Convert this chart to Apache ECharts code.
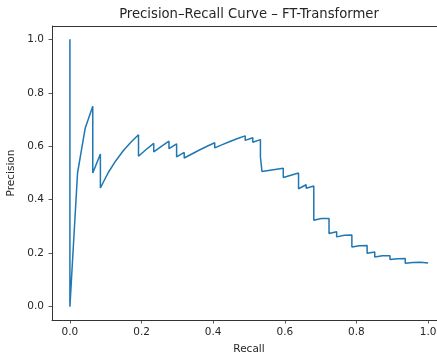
<!DOCTYPE html>
<html>
<head>
<meta charset="utf-8">
<script src="https://cdn.jsdelivr.net/npm/echarts@6/dist/echarts.min.js"></script>
<style>html,body{margin:0;padding:0;background:#fff;}#c{width:437px;height:357px;}</style>
</head>
<body>
<div id="c"></div>
<script>
const titleText = 'Precision\u2013Recall Curve \u2013 FT-Transformer';
const xName = 'Recall';
const yName = 'Precision';
const tickValues = [0, 0.2, 0.4, 0.6, 0.8, 1.0];

const recall = [0, 0, 0.0213, 0.0426, 0.0638, 0.0638, 0.0851, 0.0851, 0.1064, 0.1277,
  0.1489, 0.1702, 0.1915, 0.1915, 0.2128, 0.2340, 0.2340, 0.2553, 0.2766, 0.2766,
  0.2979, 0.2979, 0.3191, 0.3191, 0.3404, 0.3617, 0.3830, 0.4043, 0.4043, 0.4255,
  0.4468, 0.4681, 0.4894, 0.4894, 0.5106, 0.5106, 0.5319, 0.5319, 0.5362, 0.5362,
  0.5957, 0.5957, 0.6383, 0.6383, 0.6596, 0.6596, 0.6809, 0.6809, 0.7021, 0.7021,
  0.7234, 0.7234, 0.7447, 0.7447, 0.7660, 0.7660, 0.7872, 0.7872, 0.8085, 0.8085,
  0.8298, 0.8298, 0.8511, 0.8511, 0.8723, 0.8723, 0.8936, 0.8936, 0.9149, 0.9149,
  0.9362, 0.9362, 0.9574, 0.9574, 0.9787, 0.9787, 1.0];
const precision = [1.0, 0.0, 0.5, 0.667, 0.75, 0.5, 0.571, 0.444, 0.5, 0.545,
  0.583, 0.615, 0.643, 0.5625, 0.588, 0.611, 0.579, 0.6, 0.619, 0.591,
  0.609, 0.56, 0.577, 0.556, 0.571, 0.586, 0.6, 0.613, 0.594, 0.606,
  0.618, 0.629, 0.639, 0.622, 0.632, 0.615, 0.625, 0.56, 0.56, 0.506,
  0.518, 0.483, 0.5, 0.441, 0.456, 0.443, 0.451, 0.323, 0.33, 0.324,
  0.33, 0.274, 0.28, 0.261, 0.267, 0.263, 0.268, 0.223, 0.228, 0.225,
  0.229, 0.2, 0.204, 0.186, 0.19, 0.187, 0.19, 0.176, 0.179, 0.177,
  0.18, 0.162, 0.165, 0.163, 0.166, 0.162, 0.163];

const pts = recall.map((r, i) => [r, precision[i]]);
const font = 'DejaVu Sans';
const txt = '#262626';
const spine = {show: true, onZero: false, lineStyle: {color: '#333', width: 1}};
const tick = {show: true, inside: false, customValues: tickValues, length: 3.5, lineStyle: {color: '#333', width: 0.8}};

const chart = echarts.init(document.getElementById('c'), null, {renderer: 'canvas'});
chart.setOption({
  animation: false,
  backgroundColor: '#fff',
  title: {
    text: titleText, left: 249, top: 8, textAlign: 'center', padding: 0, z: 0,
    textStyle: {fontFamily: font, fontSize: 13.2, fontWeight: 'normal', color: txt}
  },
  grid: {left: 52, top: 26, width: 394, height: 294, show: false, outerBoundsMode: 'none', containLabel: false},
  graphic: [{
    type: 'line', z: 100, silent: true,
    shape: {x1: 52, y1: 26.5, x2: 437, y2: 26.5},
    style: {stroke: '#333', lineWidth: 1}
  }],
  xAxis: {
    type: 'value', position: 'bottom', min: -0.05, max: 1.05,
    name: xName, nameLocation: 'middle', nameGap: 24,
    nameTextStyle: {fontFamily: font, fontSize: 10.5, color: txt},
    axisLine: spine,
    splitLine: {show: false},
    axisTick: tick,
    axisLabel: {customValues: tickValues, margin: 7, fontFamily: font, fontSize: 10.5, color: txt,
      formatter: v => v.toFixed(1)}
  },
  yAxis: {
    type: 'value', position: 'left', min: -0.05, max: 1.05,
    name: yName, nameLocation: 'middle', nameGap: 29,
    nameTextStyle: {fontFamily: font, fontSize: 10.5, color: txt},
    axisLine: spine,
    splitLine: {show: false},
    axisTick: tick,
    axisLabel: {customValues: tickValues, margin: 8, fontFamily: font, fontSize: 10.5, color: txt,
      formatter: v => v.toFixed(1)}
  },
  series: [{
    type: 'line', data: pts, showSymbol: false, symbol: 'none', xAxisIndex: 0, yAxisIndex: 0,
    lineStyle: {color: '#1f77b4', width: 1.5}, clip: false
  }]
});
</script>
</body>
</html>
